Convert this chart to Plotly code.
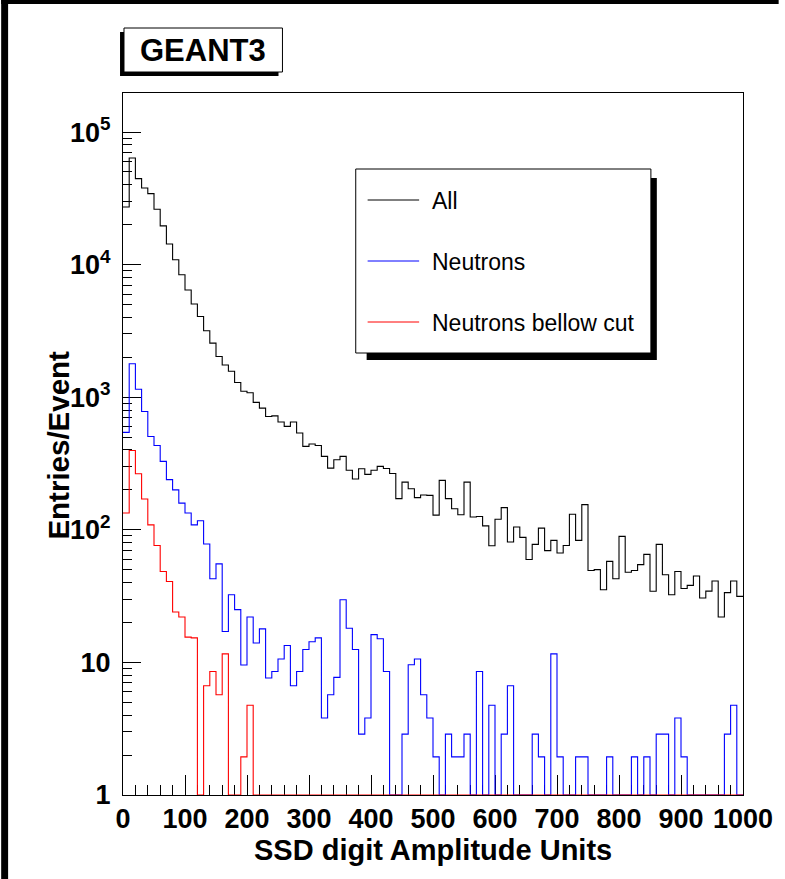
import plotly.graph_objects as go

# ---------------- data (bin width 10, 0..1000) ----------------
bin_edges = list(range(0, 1001, 10))

all_hits = [27200, 63700, 44500, 37800, 34300, 26200, 19600, 14300, 10900, 8400,
            6430, 5050, 4060, 3170, 2560, 2030, 1750, 1570, 1290, 1110,
            1080, 914, 828, 716, 724, 650, 603, 650, 537, 426,
            444, 432, 358, 292, 338, 358, 281, 242, 289, 262,
            281, 301, 290, 266, 172, 229, 204, 175, 183, 182,
            129, 236, 172, 144, 130, 229, 125, 126, 107, 75.9,
            120, 147, 80.9, 105, 87.7, 59.8, 77.6, 103, 69.7, 83.2,
            66.8, 76.2, 131, 83.2, 155, 49.4, 50.1, 35.3, 57.8, 42.8,
            89.3, 47.8, 49.4, 54.6, 65.3, 34.4, 77.6, 45.8, 32.4, 48.5,
            36.1, 38.1, 44.8, 30.6, 34.5, 41.1, 22.0, 33.6, 41.1, 31.5]

neutrons = [543, 1790, 1150, 781, 506, 433, 328, 239, 200, 159,
            134, 109, 117, 78.2, 42.8, 55.4, 17.1, 32.4, 25.0, 9.55,
            22.0, 14.0, 17.9, 7.62, 8.55, 10.6, 13.4, 6.67, 8.55, 12.5,
            14.3, 15.3, 3.81, 5.71, 7.71, 29.7, 18.1, 12.5, 2.88, 3.81,
            16.2, 15.1, 8.55, 0, 0, 2.88, 9.61, 10.6, 5.71, 3.81,
            1.94, 0, 2.88, 1.94, 1.94, 2.88, 0, 8.55, 0, 4.75,
            0, 2.88, 6.67, 0, 0, 0, 2.88, 1.94, 0, 11.6,
            1.94, 0, 0, 1.94, 1.94, 0, 0, 0, 1.94, 0,
            0, 0, 1.94, 0, 1.94, 0, 2.88, 2.88, 0, 3.81,
            1.94, 0, 0, 0, 0, 0, 0, 2.88, 4.75, 0]

neutrons_below_cut = [134, 397, 265, 171, 109, 76.2, 48.5, 40.8, 24.0, 22.0,
                      15.5, 15.3, 0, 6.67, 8.55, 5.71, 11.6, 0, 0, 1.94,
                      4.75] + [0] * 79

series_names = ["All", "Neutrons", "Neutrons bellow cut"]
series_colors = ["#000000", "#0000ff", "#ff0000"]

x_tick_vals = list(range(0, 1001, 100))
x_tick_text = [str(v) for v in x_tick_vals]
y_tick_vals = [1, 10, 100, 1000, 10000, 100000]
y_tick_text = ["1", "10", "10<sup>2</sup>", "10<sup>3</sup>", "10<sup>4</sup>", "10<sup>5</sup>"]
y_minor_vals = [m * 10 ** e for e in range(0, 6) for m in range(2, 10)]

Y_MIN, Y_MAX = 1, 1.97e5

# ---------------- layout geometry (pixels) ----------------
W_PX, H_PX = 785, 879
L, T, R = 123, 93, 36
PLOT_BOTTOM = 795
B = H_PX - PLOT_BOTTOM
PW, PH = W_PX - L - R, H_PX - T - B


def px(x):
    return (x - L) / PW


def py(y):
    return (T + PH - y) / PH


fig = go.Figure()

for vals, col in zip([all_hits, neutrons, neutrons_below_cut], series_colors):
    yv = [max(v, Y_MIN) for v in vals]
    yv = yv + [yv[-1]]
    fig.add_trace(go.Scatter(x=bin_edges, y=yv, mode="lines",
                             line=dict(color=col, width=1.1, shape="hv"),
                             showlegend=False, hoverinfo="skip"))

FAMILY = "Liberation Sans, Arial, sans-serif"
bold_font = dict(family=FAMILY, size=27, color="black", weight="bold")

fig.update_layout(
    width=W_PX, height=H_PX, autosize=False,
    margin=dict(l=L, r=R, t=T, b=B, pad=0),
    paper_bgcolor="white", plot_bgcolor="white",
    showlegend=False,
    xaxis=dict(range=[0, 1000], showgrid=False, zeroline=False,
               showline=True, linecolor="black", linewidth=1, mirror=True,
               ticks="inside", ticklen=20, tickwidth=1, tickcolor="black",
               tickmode="array", tickvals=x_tick_vals, ticktext=x_tick_text,
               tickfont=bold_font, ticklabelstandoff=0, layer="below traces",
               minor=dict(ticks="inside", ticklen=10, tickwidth=1, tickcolor="black",
                          dtick=20, tick0=0, showgrid=False)),
    yaxis=dict(type="log", range=[0, 5.2945], showgrid=False, zeroline=False,
               showline=True, linecolor="black", linewidth=1, mirror=True,
               ticks="inside", ticklen=18, tickwidth=1, tickcolor="black",
               tickmode="array", tickvals=y_tick_vals, ticktext=y_tick_text,
               tickfont=bold_font, ticklabelstandoff=6, layer="below traces",
               minor=dict(ticks="inside", ticklen=9, tickwidth=1, tickcolor="black",
                          tickmode="array", tickvals=y_minor_vals, showgrid=False)),
)

shapes = []
# canvas border (top and left)
shapes.append(dict(type="rect", xref="paper", yref="paper", x0=px(0), x1=px(7), y0=py(H_PX), y1=py(0),
                   fillcolor="black", line=dict(width=0), layer="above"))
shapes.append(dict(type="rect", xref="paper", yref="paper", x0=px(0), x1=px(W_PX), y0=py(4), y1=py(0),
                   fillcolor="black", line=dict(width=0), layer="above"))
# title box with shadow
shapes.append(dict(type="rect", xref="paper", yref="paper", x0=px(120), x1=px(280), y0=py(76), y1=py(32),
                   fillcolor="black", line=dict(width=0), layer="above"))
shapes.append(dict(type="rect", xref="paper", yref="paper", x0=px(124), x1=px(284), y0=py(72), y1=py(28),
                   fillcolor="white", line=dict(color="black", width=1), layer="above"))
# legend box with shadow
shapes.append(dict(type="rect", xref="paper", yref="paper", x0=px(369), x1=px(662), y0=py(360), y1=py(178),
                   fillcolor="black", line=dict(width=0), layer="above"))
shapes.append(dict(type="rect", xref="paper", yref="paper", x0=px(358), x1=px(656), y0=py(353), y1=py(169),
                   fillcolor="white", line=dict(color="black", width=1), layer="above"))

legend_rows_y = [200, 261, 322]
annotations = []
for name, col, ry in zip(series_names, series_colors, legend_rows_y):
    shapes.append(dict(type="line", xref="paper", yref="paper", x0=px(370), x1=px(422), y0=py(ry), y1=py(ry),
                       line=dict(color=col, width=1), layer="above"))
    annotations.append(dict(xref="paper", yref="paper", x=px(433), y=py(ry + 1), text=name, showarrow=False,
                            xanchor="left", yanchor="middle",
                            font=dict(family=FAMILY, size=23, color="black")))

annotations.append(dict(xref="paper", yref="paper", x=px(204), y=py(51), text="GEANT3", showarrow=False,
                        xanchor="center", yanchor="middle",
                        font=dict(family=FAMILY, size=31, color="black", weight="bold")))
annotations.append(dict(xref="paper", yref="paper", x=px(436), y=py(850), text="SSD digit Amplitude Units",
                        showarrow=False, xanchor="center", yanchor="middle",
                        font=dict(family=FAMILY, size=29, color="black", weight="bold")))
annotations.append(dict(xref="paper", yref="paper", x=px(58), y=py(445), text="Entries/Event", textangle=-90,
                        showarrow=False, xanchor="center", yanchor="middle",
                        font=dict(family=FAMILY, size=29.5, color="black", weight="bold")))

fig.update_layout(shapes=shapes, annotations=annotations)

fig.write_html("out.html")
